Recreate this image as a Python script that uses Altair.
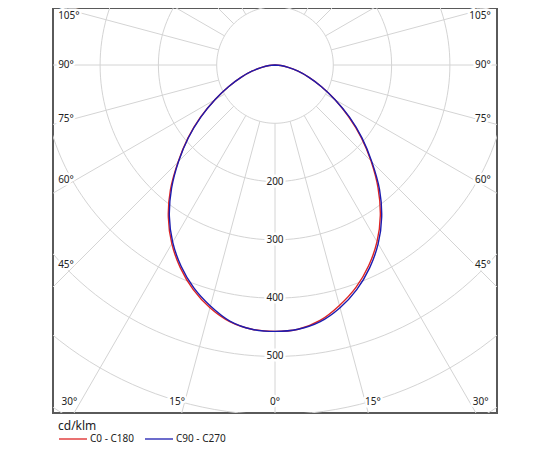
import altair as alt
import pandas as pd

# gamma angle (deg) and luminous intensity (cd/klm) per C-plane half
gamma = [0, 5, 10, 15, 20, 25, 30, 35, 40, 45, 50, 55, 60, 65, 70, 75, 80, 85, 90]
c180 = [457, 455, 447, 431, 410, 384, 354, 319, 279, 235, 195, 156, 119, 88, 62, 41, 23, 10, 0]
c0 = [457, 455, 445, 427, 406, 380, 350, 315, 275, 233, 193, 154, 119, 88, 62, 41, 23, 10, 0]
c270 = [457, 455, 446, 428, 407, 381, 351, 316, 276, 234, 194, 155, 119, 88, 62, 41, 23, 10, 0]
c90 = [457, 455, 447, 431, 410, 384, 354, 319, 279, 235, 195, 156, 119, 88, 62, 41, 23, 10, 0]

series_names = ["C0 - C180", "C90 - C270"]
series_colors = ["#dd2424", "#1c1cb0"]

rings = [100, 200, 300, 400, 500, 600, 700]
ring_labels = [200, 300, 400, 500]
spokes = list(range(0, 360, 15))
side_ticks = [45, 60, 75, 90, 105]
bottom_ticks = [0, 15, 30]

X_DOM = [-380.8, 380.8]
Y_DOM = [-597, 97.8]
FONT = "Noto Sans"
GRID = "#d4d4d4"
TXT = "#222222"


def xq(field):
    return alt.X(field, type="quantitative", scale=alt.Scale(domain=X_DOM, nice=False, zero=False), axis=None)


def yq(field):
    return alt.Y(field, type="quantitative", scale=alt.Scale(domain=Y_DOM, nice=False, zero=False), axis=None)


# curve table: left half uses negative angles
rows = []
for name, left, right in [(series_names[0], c180, c0), (series_names[1], c270, c90)]:
    for g, v in zip(gamma, left):
        rows.append({"series": name, "a": -g, "I": v})
    for g, v in zip(gamma[1:], right[1:]):
        rows.append({"series": name, "a": g, "I": v})
curves_df = pd.DataFrame(rows)

ring_df = pd.DataFrame([{"r": r, "t": t} for r in rings for t in range(0, 362, 2)])
spoke_df = pd.DataFrame({"t": spokes})
ring_lab_df = pd.DataFrame({"r": ring_labels})
side_df = pd.DataFrame({"t": side_ticks})
bottom_df = pd.DataFrame([{"t": t, "s": s} for t in bottom_ticks for s in ([1] if t == 0 else [-1, 1])])

ring_layer = alt.Chart(ring_df).mark_line(stroke=GRID, strokeWidth=1, clip=True).transform_calculate(
    x="datum.r * sin(datum.t * PI / 180)",
    y="-datum.r * cos(datum.t * PI / 180)",
).encode(x=xq("x"), y=yq("y"), detail="r:N", order="t:Q")

spoke_layer = alt.Chart(spoke_df).mark_rule(stroke=GRID, strokeWidth=1, clip=True).transform_calculate(
    x1="100 * sin(datum.t * PI / 180)",
    y1="-100 * cos(datum.t * PI / 180)",
    x2="900 * sin(datum.t * PI / 180)",
    y2="-900 * cos(datum.t * PI / 180)",
).encode(x=xq("x1"), y=yq("y1"), x2="x2:Q", y2="y2:Q")


def halo_text(base, **kw):
    halo = base.mark_text(font=FONT, fontSize=10, stroke="white", strokeWidth=5, fill="white", **kw)
    txt = base.mark_text(font=FONT, fontSize=10, fill=TXT, **kw)
    return [halo, txt]


ring_base = alt.Chart(ring_lab_df).transform_calculate(
    x="0", y="-datum.r", lab="datum.r + ''"
).encode(x=xq("x"), y=yq("y"), text="lab:N")

# side angle labels sit where the spoke crosses a line just inside the frame
side_y = "min(-343 / tan(datum.t * PI / 180), 84)"

left_base = alt.Chart(side_df).transform_calculate(
    x="-372", y=side_y, lab="datum.t + '°'"
).encode(x=xq("x"), y=yq("y"), text="lab:N")

right_base = alt.Chart(side_df).transform_calculate(
    x="370", y=side_y, lab="datum.t + '°'"
).encode(x=xq("x"), y=yq("y"), text="lab:N")

bottom_base = alt.Chart(bottom_df).transform_calculate(
    x="datum.s * (597 * tan(datum.t * PI / 180) + (datum.t > 0 ? 8 : 0))",
    y="-578",
    lab="datum.t + '°'",
).encode(x=xq("x"), y=yq("y"), text="lab:N")

curve_layer = alt.Chart(curves_df).mark_line(strokeWidth=1.4, interpolate="catmull-rom").transform_calculate(
    x="datum.I * sin(datum.a * PI / 180)",
    y="-datum.I * cos(datum.a * PI / 180)",
).encode(
    x=xq("x"),
    y=yq("y"),
    order="a:Q",
    color=alt.Color(
        "series:N",
        scale=alt.Scale(domain=series_names, range=series_colors),
        legend=alt.Legend(
            title="cd/klm",
            orient="none",
            legendX=5,
            legendY=413,
            direction="horizontal",
            gridAlign="each",
            symbolType="stroke",
            symbolSize=784,
            symbolStrokeWidth=1.3,
            labelOffset=2,
            columnPadding=8,
            titlePadding=-9,
            titleFontSize=12,
            titleFontWeight="normal",
            titleFont=FONT,
            titleColor=TXT,
            labelFont=FONT,
            labelFontSize=10,
            labelColor=TXT,
        ),
    ),
)

layers = [ring_layer, spoke_layer]
layers += halo_text(ring_base, align="center", baseline="middle")
layers += halo_text(left_base, align="left", baseline="middle")
layers += halo_text(right_base, align="right", baseline="middle")
layers += halo_text(bottom_base, align="center", baseline="middle")
layers.append(curve_layer)

chart = alt.layer(*layers).properties(
    width=444,
    height=405,
    padding={"left": 45, "top": 0, "right": 5, "bottom": 2},
).configure_view(stroke="#5a5a5a", strokeWidth=2)

chart.save("out.html", embed_options={"renderer": "svg", "actions": False})
